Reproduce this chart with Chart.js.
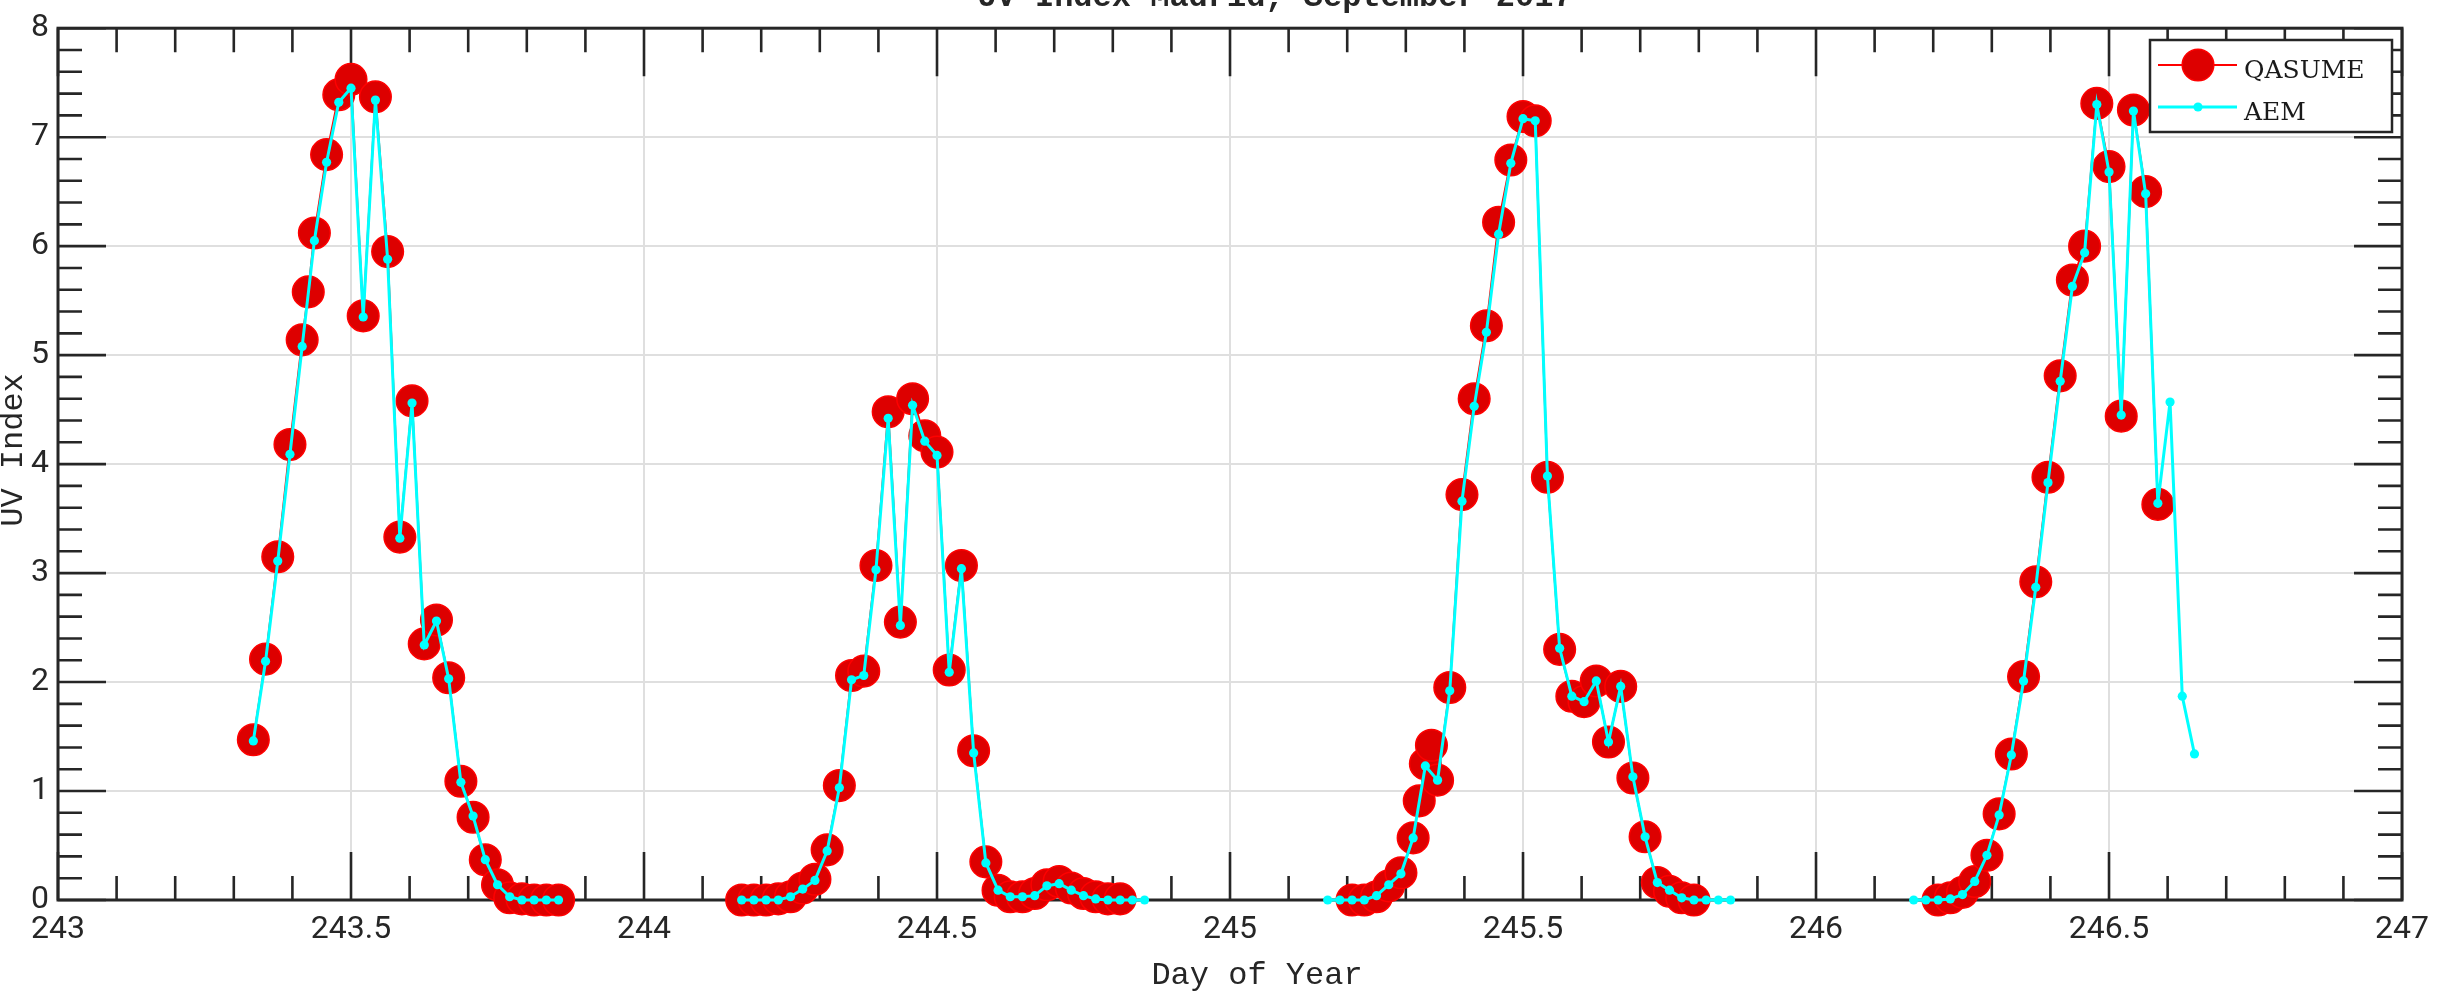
<!DOCTYPE html>
<html>
<head>
<meta charset="utf-8">
<title>UV Index Madrid, September 2017</title>
<script src="https://cdn.jsdelivr.net/npm/chart.js@4.4.1/dist/chart.umd.min.js"></script>
<style>
  html, body { margin: 0; padding: 0; background: #fff; }
  #wrap { width: 2440px; height: 992px; }
</style>
</head>
<body>
<div id="wrap"><canvas id="uvChart" width="2440" height="992"></canvas></div>
<script>
// axis ticks
const dayTicks = [243, 243.5, 244, 244.5, 245, 245.5, 246, 246.5, 247];
const uvTicks = [0, 1, 2, 3, 4, 5, 6, 7, 8];

// AEM, half-hourly (hour of day) and UV index
const aemHours243 = [8, 8.5, 9, 9.5, 10, 10.5, 11, 11.5, 12, 12.5, 13, 13.5, 14, 14.5, 15, 15.5, 16, 16.5, 17, 17.5, 18, 18.5, 19, 19.5, 20, 20.5];
const aemUv243 = [1.46, 2.19, 3.11, 4.09, 5.08, 6.05, 6.77, 7.32, 7.45, 5.35, 7.34, 5.88, 3.32, 4.56, 2.34, 2.56, 2.03, 1.08, 0.77, 0.37, 0.14, 0.03, 0, 0, 0, 0];
const aemHours244 = [4, 4.5, 5, 5.5, 6, 6.5, 7, 7.5, 8, 8.5, 9, 9.5, 10, 10.5, 11, 11.5, 12, 12.5, 13, 13.5, 14, 14.5, 15, 15.5, 16, 16.5, 17, 17.5, 18, 18.5, 19, 19.5, 20, 20.5];
const aemUv244 = [0, 0, 0, 0, 0.03, 0.10, 0.18, 0.45, 1.03, 2.02, 2.06, 3.03, 4.42, 2.52, 4.54, 4.21, 4.08, 2.09, 3.04, 1.35, 0.34, 0.09, 0.03, 0.03, 0.04, 0.13, 0.15, 0.09, 0.04, 0.01, 0, 0, 0, 0];
const aemHours245 = [4, 4.5, 5, 5.5, 6, 6.5, 7, 7.5, 8, 8.5, 9, 9.5, 10, 10.5, 11, 11.5, 12, 12.5, 13, 13.5, 14, 14.5, 15, 15.5, 16, 16.5, 17, 17.5, 18, 18.5, 19, 19.5, 20, 20.5];
const aemUv245 = [0, 0, 0, 0, 0.04, 0.14, 0.24, 0.57, 1.23, 1.10, 1.92, 3.66, 4.53, 5.21, 6.11, 6.76, 7.17, 7.15, 3.89, 2.31, 1.87, 1.82, 2.01, 1.45, 1.96, 1.13, 0.58, 0.16, 0.09, 0.02, 0, 0, 0, 0];
const aemHours246 = [4, 4.5, 5, 5.5, 6, 6.5, 7, 7.5, 8, 8.5, 9, 9.5, 10, 10.5, 11, 11.5, 12, 12.5, 13, 13.5, 14, 14.5, 15, 15.5];
const aemUv246 = [0, 0, 0, 0.01, 0.05, 0.17, 0.41, 0.78, 1.33, 2.01, 2.87, 3.83, 4.76, 5.63, 5.94, 7.30, 6.68, 4.45, 7.24, 6.48, 3.64, 4.57, 1.87, 1.34];

// QASUME reference spectroradiometer
const qasHours243 = [8, 8.5, 9, 9.5, 10, 10.25, 10.5, 11, 11.5, 12, 12.5, 13, 13.5, 14, 14.5, 15, 15.5, 16, 16.5, 17, 17.5, 18, 18.5, 19, 19.5, 20, 20.5];
const qasUv243 = [1.47, 2.21, 3.15, 4.18, 5.14, 5.58, 6.12, 6.84, 7.39, 7.53, 5.36, 7.37, 5.95, 3.33, 4.58, 2.35, 2.57, 2.04, 1.09, 0.76, 0.37, 0.14, 0.02, 0.01, 0, 0, 0];
const qasHours244 = [4, 4.5, 5, 5.5, 6, 6.5, 7, 7.5, 8, 8.5, 9, 9.5, 10, 10.5, 11, 11.5, 12, 12.5, 13, 13.5, 14, 14.5, 15, 15.5, 16, 16.5, 17, 17.5, 18, 18.5, 19, 19.5];
const qasUv244 = [0, 0, 0, 0.01, 0.03, 0.11, 0.19, 0.46, 1.05, 2.06, 2.10, 3.07, 4.48, 2.55, 4.60, 4.26, 4.11, 2.11, 3.07, 1.37, 0.35, 0.09, 0.03, 0.03, 0.06, 0.14, 0.17, 0.11, 0.06, 0.03, 0.01, 0.01];
const qasHours245 = [5, 5.5, 6, 6.5, 7, 7.5, 7.75, 8, 8.25, 8.5, 9, 9.5, 10, 10.5, 11, 11.5, 12, 12.5, 13, 13.5, 14, 14.5, 15, 15.5, 16, 16.5, 17, 17.5, 18, 18.5, 19];
const qasUv245 = [0, 0, 0.03, 0.13, 0.25, 0.57, 0.91, 1.25, 1.42, 1.10, 1.95, 3.72, 4.60, 5.27, 6.22, 6.79, 7.19, 7.15, 3.88, 2.30, 1.87, 1.82, 2.01, 1.45, 1.96, 1.12, 0.58, 0.16, 0.08, 0.02, 0];
const qasHours246 = [5, 5.5, 6, 6.5, 7, 7.5, 8, 8.5, 9, 9.5, 10, 10.5, 11, 11.5, 12, 12.5, 13, 13.5, 14];
const qasUv246 = [0, 0.02, 0.07, 0.17, 0.41, 0.79, 1.34, 2.05, 2.92, 3.88, 4.81, 5.69, 6.00, 7.31, 6.73, 4.44, 7.25, 6.50, 3.63];

const axisColor = '#262626';
const gridColor = '#dfdfdf';
const monoFont = "'Courier New', 'Liberation Mono', monospace";

// day of year + hour -> points, with a null between days so lines break overnight
function toPoints(days) {
    const pts = [];
    days.forEach(([day, hours, uv]) => {
        hours.forEach((h, i) => pts.push({ x: day + h / 24, y: uv[i] }));
        pts.push({ x: day + 0.99, y: null });
    });
    return pts;
}

const aemPoints = toPoints([[243, aemHours243, aemUv243], [244, aemHours244, aemUv244], [245, aemHours245, aemUv245], [246, aemHours246, aemUv246]]);
const qasPoints = toPoints([[243, qasHours243, qasUv243], [244, qasHours244, qasUv244], [245, qasHours245, qasUv245], [246, qasHours246, qasUv246]]);

// inward tick marks, box, titles and legend
const axesBox = {
    id: 'axesBox',
    beforeDatasetsDraw(chart) {
        const { ctx, chartArea: a, scales: { x, y } } = chart;
        ctx.save();
        ctx.strokeStyle = axisColor;
        ctx.lineWidth = 2.6;
        ctx.beginPath();
        for (let i = 0; i <= 40; i++) {
            const px = x.getPixelForValue(243 + i * 0.1);
            const len = i % 5 === 0 ? 48 : 24;
            ctx.moveTo(px, a.bottom); ctx.lineTo(px, a.bottom - len);
            ctx.moveTo(px, a.top); ctx.lineTo(px, a.top + len);
        }
        for (let i = 0; i <= 40; i++) {
            const py = y.getPixelForValue(i * 0.2);
            const len = i % 5 === 0 ? 48 : 24;
            ctx.moveTo(a.left, py); ctx.lineTo(a.left + len, py);
            ctx.moveTo(a.right, py); ctx.lineTo(a.right - len, py);
        }
        ctx.stroke();
        ctx.lineWidth = 3;
        ctx.strokeRect(a.left, a.top, a.right - a.left, a.bottom - a.top);
        ctx.restore();
    },
    afterDraw(chart) {
        const { ctx } = chart;
        ctx.save();
        ctx.fillStyle = axisColor;
        ctx.textAlign = 'center';
        ctx.textBaseline = 'alphabetic';
        ctx.font = 'bold 32px ' + monoFont;
        ctx.fillText('UV Index Madrid, September 2017', 1275, 6);
        ctx.font = '32px ' + monoFont;
        ctx.fillText('Day of Year', 1257, 984);
        ctx.save();
        ctx.translate(22, 450);
        ctx.rotate(-Math.PI / 2);
        ctx.fillText('UV Index', 0, 0);
        ctx.restore();

        // legend
        const lg = { left: 2150, top: 40, right: 2392, bottom: 132 };
        ctx.fillStyle = '#fff';
        ctx.fillRect(lg.left, lg.top, lg.right - lg.left, lg.bottom - lg.top);
        ctx.strokeStyle = axisColor;
        ctx.lineWidth = 2.5;
        ctx.strokeRect(lg.left, lg.top, lg.right - lg.left, lg.bottom - lg.top);
        const sets = chart.data.datasets;
        const rows = [[sets[1], 65], [sets[0], 107]];
        rows.forEach(([ds, ry]) => {
            ctx.strokeStyle = ds.borderColor;
            ctx.lineWidth = ds.borderWidth;
            ctx.beginPath();
            ctx.moveTo(2158, ry); ctx.lineTo(2237, ry);
            ctx.stroke();
            ctx.beginPath();
            ctx.arc(2198, ry, ds.pointRadius, 0, Math.PI * 2);
            ctx.fillStyle = ds.pointBackgroundColor;
            ctx.fill();
            if (ds.pointBorderWidth) {
                ctx.lineWidth = ds.pointBorderWidth;
                ctx.strokeStyle = ds.pointBorderColor;
                ctx.stroke();
            }
            ctx.fillStyle = '#1a1a1a';
            ctx.font = "25px 'DejaVu Serif', serif";
            ctx.textAlign = 'left';
            ctx.fillText(ds.label, 2244, ry + 13);
        });
        ctx.restore();
    }
};

new Chart(document.getElementById('uvChart'), {
    type: 'line',
    data: {
        datasets: [{
            label: 'AEM',
            data: aemPoints,
            borderColor: '#00ffff',
            borderWidth: 3,
            pointRadius: 4.6,
            pointBackgroundColor: '#00ffff',
            pointBorderColor: '#00ffff',
            pointBorderWidth: 0,
            tension: 0,
            spanGaps: false,
            clip: false,
            order: 0
        }, {
            label: 'QASUME',
            data: qasPoints,
            borderColor: '#ff0000',
            borderWidth: 2,
            pointRadius: 15.8,
            pointBackgroundColor: '#dd0000',
            pointBorderColor: '#ff0000',
            pointBorderWidth: 1.5,
            tension: 0,
            spanGaps: false,
            clip: false,
            order: 1
        }]
    },
    options: {
        responsive: false,
        devicePixelRatio: 1,
        animation: false,
        layout: { padding: { top: 18, right: 27, bottom: 0, left: 0 } },
        plugins: {
            legend: { display: false },
            title: { display: false },
            tooltip: { enabled: false }
        },
        scales: {
            x: {
                type: 'linear',
                min: 243,
                max: 247,
                afterBuildTicks: s => { s.ticks = dayTicks.map(v => ({ value: v })); },
                afterFit: s => { s.height = 92; },
                grid: { color: gridColor, lineWidth: 2, drawTicks: false },
                border: { display: false },
                ticks: {
                    color: axisColor,
                    font: { family: 'Roboto', size: 32 },
                    padding: 11,
                    maxRotation: 0,
                    autoSkip: false,
                    callback: v => String(v)
                }
            },
            y: {
                type: 'linear',
                min: 0,
                max: 8,
                afterBuildTicks: s => { s.ticks = uvTicks.map(v => ({ value: v })); },
                afterFit: s => { s.width = 58; },
                grid: { color: gridColor, lineWidth: 2, drawTicks: false },
                border: { display: false },
                ticks: {
                    color: axisColor,
                    font: { family: 'Roboto', size: 32 },
                    padding: 9,
                    callback: v => String(v)
                }
            }
        }
    },
    plugins: [axesBox]
});
</script>
</body>
</html>
